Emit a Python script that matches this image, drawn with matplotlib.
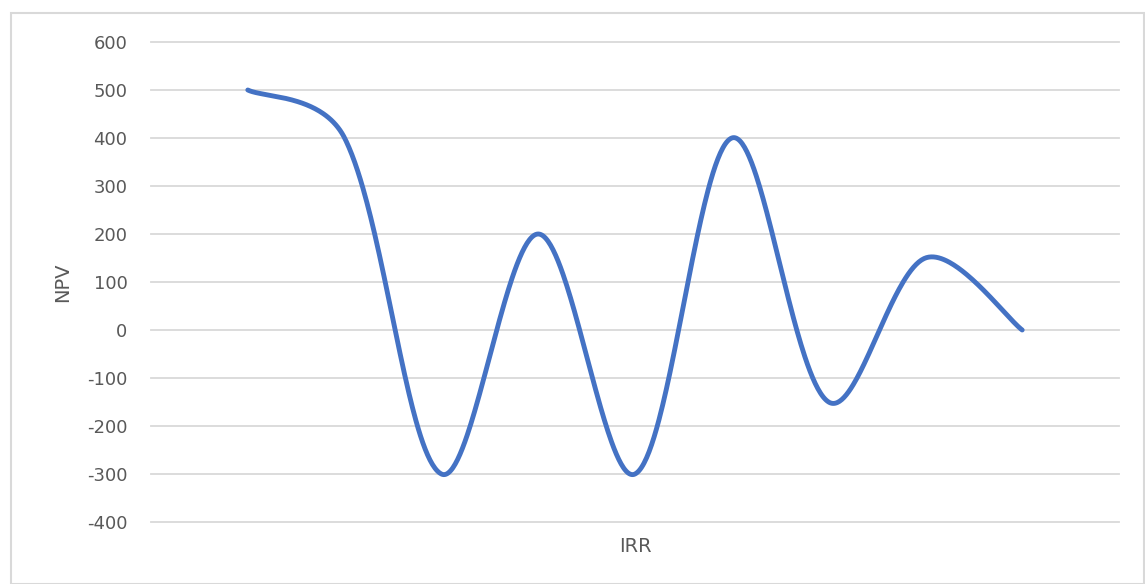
import numpy as np
import matplotlib
matplotlib.use("Agg")
import matplotlib.pyplot as plt
from matplotlib.patches import Rectangle

# Data
x_vals = [1, 2, 3, 4, 5, 6, 7, 8, 9]
npv = [500, 400, -300, 200, -300, 400, -150, 150, 0]
y_ticks = [-400, -300, -200, -100, 0, 100, 200, 300, 400, 500, 600]
x_label = "IRR"
y_label = "NPV"

W, H = 1145, 584
left, right, top, bottom = 151, 1119, 42, 522
XMIN, XMAX, YMIN, YMAX = 0, 10, -400, 600
sxp = (right - left) / (XMAX - XMIN)   # px per x unit
syp = (bottom - top) / (YMAX - YMIN)   # px per y unit


def smooth(xs, ys, n=80):
    """Excel-like smoothed line: cardinal Bezier, control lengths moderated
    by adjacent chord lengths (computed in screen-pixel space)."""
    P = np.column_stack([np.asarray(xs, float) * sxp, np.asarray(ys, float) * syp])
    m = len(P)
    d = np.linalg.norm(np.diff(P, axis=0), axis=1)
    T = np.zeros_like(P)
    for i in range(m):
        if i == 0:
            T[i] = P[1] - P[0]
        elif i == m - 1:
            T[i] = P[-1] - P[-2]
        else:
            T[i] = P[i + 1] - P[i - 1]

    def fac(a, b):
        return (1 / 6) * np.sqrt(2 * a / (a + b))

    out = []
    for i in range(m - 1):
        p1, p2 = P[i], P[i + 1]
        f1 = 1 / 6 if i == 0 else fac(d[i], d[i - 1])
        f2 = 1 / 6 if i + 1 == m - 1 else fac(d[i], d[i + 1])
        c1 = p1 + T[i] * f1
        c2 = p2 - T[i + 1] * f2
        t = np.linspace(0, 1, n)[:, None]
        seg = ((1 - t) ** 3) * p1 + 3 * ((1 - t) ** 2) * t * c1 + 3 * (1 - t) * t ** 2 * c2 + t ** 3 * p2
        out.append(seg if i == 0 else seg[1:])
    out = np.vstack(out)
    return out[:, 0] / sxp, out[:, 1] / syp


fig = plt.figure(figsize=(W / 100, H / 100), dpi=100)

# chart border
fig.patches.append(Rectangle((11 / W, 0), (W - 12) / W, (H - 13) / H,
                             transform=fig.transFigure, fill=False,
                             edgecolor="#d9d9d9", linewidth=1.5))

ax = fig.add_axes([left / W, 1 - bottom / H, (right - left) / W, (bottom - top) / H])

sx, sy = smooth(x_vals, npv)
ax.plot(sx, sy, color="#4472C4", linewidth=3.5, solid_capstyle="round", zorder=3)

ax.set_xlim(XMIN, XMAX)
ax.set_ylim(YMIN, YMAX)
ax.set_yticks(y_ticks)
ax.set_yticklabels([str(v) for v in y_ticks])
ax.set_xticks([])
for v in y_ticks:
    ax.axhline(v, color="#d9d9d9", linewidth=1.3, zorder=1, clip_on=False)
for s in ax.spines.values():
    s.set_visible(False)
ax.tick_params(axis="y", length=0, pad=17, labelsize=13, labelcolor="#595959")

fig.text((left + right) / 2 / W, 1 - 546 / H, x_label, ha="center", va="center",
         fontsize=14, color="#595959")
fig.text(63 / W, 1 - 282 / H, y_label, ha="center", va="center", rotation=90,
         fontsize=14, color="#595959")

fig.savefig("out.png", dpi=100)
